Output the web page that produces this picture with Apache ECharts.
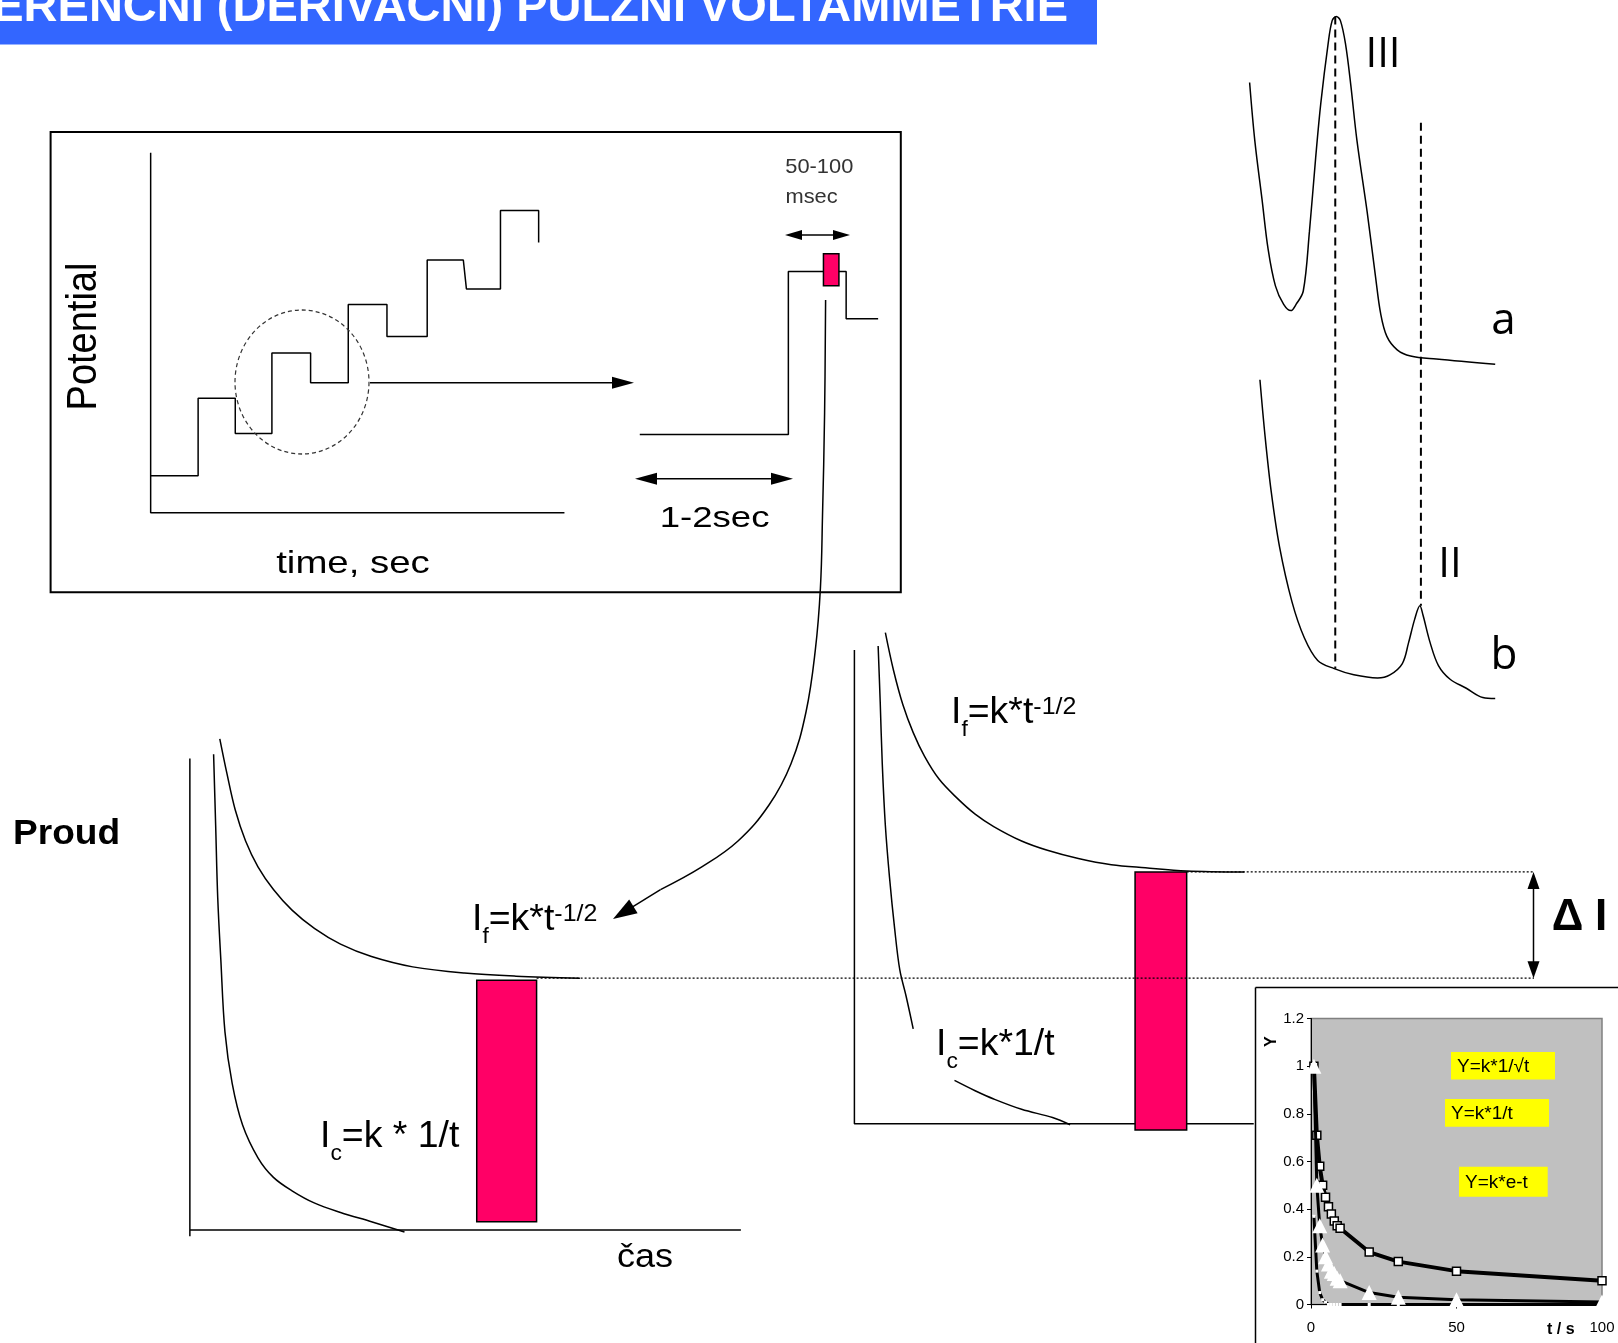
<!DOCTYPE html>
<html>
<head>
<meta charset="utf-8">
<title>Diferenční pulzní voltammetrie</title>
<script src="https://cdn.jsdelivr.net/npm/echarts/dist/echarts.min.js"></script>
<style>
  html, body { margin: 0; padding: 0; background: #fff; }
  #chart { width: 1618px; height: 1343px; }
</style>
</head>
<body>
<div id="chart"></div>
<script>
// ---- data (diagram units) ----
// potential programme: staircase with pulses, then one pulse in detail
const stairSteps = [[0,36],[46,36],[46,111],[82,111],[82,77],[117.5,77],[117.5,155],[155,155],[155,126],[191.5,126],[191.5,202],[229,202],[229,171],[268,171],[268,245],[303,245],[306,217],[339,217],[339,293],[376,293],[376,262]];
const pulseDetail = [[474,76],[618,76],[618,234],[674,234],[674,188],[705,188]];
const pulseSample = [652, 667, 220, 251];      // t from, t to, E from, E to
const potFrame = [[0,349],[0,0],[401,0]];

// current decay before the pulse
const faradaicBase = [[29,476],[36,442],[44,407],[54,377],[66,352],[81,330],[99,310],[121,292],[146,277],[176,265],[216,255],[266,249],[316,246],[378,244]];
const capacitiveBase = [[23,461],[25,392],[27,322],[30,262],[34,192],[41,142],[51,102],[66,70],[81,51],[99,38],[121,26],[146,17],[176,8],[208,-2]];
const sampleBase = [278, 336, 8, 242];
const baseFrame = [[0,457],[0,-6],[0,0],[534,0]];

// current decay after the pulse
const faradaicPulse = [[30,476],[38,439],[47,406],[57,379],[68,356],[82,334],[99,316],[117,300],[135,288],[162,274],[187,265],[217,257],[249,251],[282,248],[322,245],[378,244]];
const capacitivePulseA = [[23,463],[25,409],[27,349],[30,289],[34,239],[39,189],[44,149],[50,124],[57,92]];
const capacitivePulseB = [[97,42],[117,32],[135,24],[162,14],[192,6],[209,-1]];
const samplePulse = [272, 322, -6, 244];
const pulseFrame = [[0,459],[0,0],[387,0]];

// voltammograms a, b
const curveA = [[11,620],[16,564],[23,507],[29,458],[36,423],[44,405],[51,399],[56,405],[63,418],[69,476],[75,547],[80,600],[87,657],[91,680],[95,684],[99,680],[104,657],[109,618],[115,564],[125,494],[133,432],[138,396],[144,374],[154,361],[167,355],[192,352],[249,347]];
const curveB = [[21,332],[26,277],[32,223],[40,170],[52,117],[64,82],[77,60],[93,52],[112,46],[135,43],[147,46],[159,57],[165,77],[171,100],[176,113],[179,104],[186,77],[194,55],[205,42],[221,33],[237,24],[249,23]];
const peakIII = [[94,684],[94,52]];
const peakII = [[177,581],[177,113]];

// inset: decay functions
const tSec = [1,2,3,4,5,6,7,8,9,10,20,30,50,100];
const yInvSqrt = [1.0,0.71,0.58,0.5,0.45,0.41,0.38,0.35,0.33,0.32,0.22,0.18,0.14,0.10];
const yInv = [1.0,0.5,0.33,0.25,0.2,0.17,0.14,0.13,0.11,0.1,0.05,0.03,0.02,0.01];
const yExp = [0.37,0.14,0.05,0.02,0.01,0,0,0,0,0,0,0,0,0];

// ---- layout helpers ----
const K = 1618 / 1568;   // layout was measured on the 1568 wide copy
const SANS = '"Liberation Sans", Arial, sans-serif';
const HUM = '"Open Sans", "Noto Sans", sans-serif';

const meas = document.createElement('canvas').getContext('2d');
function textWidth(str, size) {
  meas.font = 'normal ' + size + 'px ' + SANS;
  return meas.measureText(str).width;
}

function label(text, x, base, size, opt) {
  opt = opt || {};
  const sy = opt.sy || 1;
  return {
    type: 'text', z: 20, x: x, y: base - 0.35 * size * sy,
    scaleX: opt.sx || 1, scaleY: sy,
    style: {
      text: text, fontSize: size, fontFamily: opt.family || SANS,
      fontWeight: opt.bold ? 'bold' : 'normal', fill: opt.color || '#000',
      align: opt.align || 'left', verticalAlign: 'middle'
    }
  };
}

// I_f=k*t^-1/2 style labels, pieces laid out one after another
function formula(x, base, parts) {
  const out = [];
  let cx = x;
  parts.forEach(function (p) {
    out.push(label(p[0], cx, base + (p[2] || 0), p[1], { sx: 1.04 }));
    cx += textWidth(p[0], p[1]) * 1.04;
  });
  return out;
}

function arrow(x1, y1, x2, y2, opt) {
  const len = opt.len, half = opt.half;
  const d = Math.hypot(x2 - x1, y2 - y1), ux = (x2 - x1) / d, uy = (y2 - y1) / d;
  const head = function (tx, ty, sx, sy) {
    return { type: 'polygon', z: 20, shape: { points: [[tx, ty],
      [tx - sx * len - sy * half, ty - sy * len + sx * half],
      [tx - sx * len + sy * half, ty - sy * len - sx * half]] }, style: { fill: '#000' } };
  };
  const out = [];
  let ax = x1, ay = y1, bx = x2, by = y2;
  if (opt.end) { out.push(head(x2, y2, ux, uy)); bx -= ux * len * 0.8; by -= uy * len * 0.8; }
  if (opt.start) { out.push(head(x1, y1, -ux, -uy)); ax += ux * len * 0.8; ay += uy * len * 0.8; }
  out.push({ type: 'line', z: 20, shape: { x1: ax, y1: ay, x2: bx, y2: by },
    style: { stroke: '#000', lineWidth: opt.width || 1.5 } });
  return out;
}

function yellowTag(x, y, w, h, text) {
  return [
    { type: 'rect', z: 20, shape: { x: x, y: y, width: w, height: h }, style: { fill: '#FFFF00' } },
    { type: 'text', z: 21, x: x + 6, y: y + h / 2 + 1,
      style: { text: text, fontSize: 19, fontFamily: SANS, fill: '#000', verticalAlign: 'middle' } }
  ];
}

// ---- series helpers ----
function line(name, idx, data, opt) {
  return Object.assign({
    type: 'line', name: name, xAxisIndex: idx, yAxisIndex: idx, data: data,
    symbol: 'none', showSymbol: false, silent: true, clip: false, z: 3,
    lineStyle: { color: '#000', width: 1.5 }
  }, opt || {});
}

function sampleRect(name, idx, win) {
  return {
    type: 'custom', name: name, xAxisIndex: idx, yAxisIndex: idx, silent: true, z: 4,
    data: [win], encode: { x: [0, 1], y: [2, 3] },
    renderItem: function (params, api) {
      const a = api.coord([api.value(0), api.value(3)]);
      const b = api.coord([api.value(1), api.value(2)]);
      return { type: 'rect', shape: { x: a[0], y: a[1], width: b[0] - a[0], height: b[1] - a[1] },
        style: { fill: '#FF0066', stroke: '#000', lineWidth: 1.5 } };
    }
  };
}

function hiddenAxis(idx, min, max) {
  return { type: 'value', gridIndex: idx, min: min, max: max, show: false };
}

const pairs = function (ys) { return tSec.map(function (t, i) { return [t, ys[i]]; }); };

// ---- graphic annotations ----
const graphics = [].concat(
  [
    { type: 'rect', z: 5, shape: { x: 0, y: 0, width: 1097, height: 44.5 }, style: { fill: '#3366FF' } },
    label('ERENČNÍ (DERIVAČNÍ) PULZNÍ VOLTAMMETRIE', 1068, 24.5, 47, { bold: true, color: '#fff', align: 'right' }),
    { type: 'rect', z: 5, shape: { x: 50.6, y: 132, width: 850.2, height: 460.3 },
      style: { fill: 'none', stroke: '#000', lineWidth: 2 } },
    { type: 'circle', z: 6, x: 302, y: 382, scaleY: 72 / 67, shape: { cx: 0, cy: 0, r: 67 },
      style: { fill: 'none', stroke: '#333', lineWidth: 1.2, lineDash: [4, 3] } },
    { type: 'text', z: 20, x: 84, y: 336.5, rotation: Math.PI / 2, scaleY: 1.1,
      style: { text: 'Potential', fontSize: 38, fontFamily: SANS, fill: '#000', align: 'center', verticalAlign: 'middle' } },
    label('time, sec', 353, 575, 32, { sx: 1.2, align: 'center' }),
    label('1-2sec', 714.6, 529, 30, { sx: 1.22, align: 'center' }),
    label('50-100', 819.3, 175, 21, { sx: 1.04, align: 'center', color: '#333' }),
    label('msec', 811.6, 205, 21, { sx: 1.04, align: 'center', color: '#333' }),
    label('Proud', 13, 847, 35, { bold: true, sx: 1.06 }),
    label('čas', 617, 1270, 34, { sx: 1.06 }),
    label('Δ', 1567.5, 933, 44, { bold: true, align: 'center' }),
    label('I', 1601, 933, 44, { bold: true, align: 'center' }),
    label('III', 1383, 70, 42, { family: HUM, align: 'center' }),
    label('a', 1503.5, 337, 44, { family: HUM, align: 'center' }),
    label('II', 1450, 580, 42, { family: HUM, align: 'center' }),
    label('b', 1504, 671.5, 44, { family: HUM, align: 'center' }),
    // curved arrow from the sampled pulse down to the current plot
    { type: 'polyline', z: 20, shape: { smooth: 0.4, points: [[825.6,300],[824.6,412.8],[822.5,516],[820.4,588.2],[815.3,650.2],[806,712],[791,763.7],[769,805],[738,841],[701.8,866.9],[660.5,889.6]] },
      style: { fill: 'none', stroke: '#000', lineWidth: 1.5 } },
    // dotted reference levels
    { type: 'line', z: 20, shape: { x1: 536.6, y1: 978.2, x2: 1534, y2: 978.2 }, style: { stroke: '#000', lineWidth: 1.2, lineDash: [2, 2] } },
    { type: 'line', z: 20, shape: { x1: 1186.7, y1: 871.9, x2: 1534, y2: 871.9 }, style: { stroke: '#000', lineWidth: 1.2, lineDash: [2, 2] } },
    // inset frame
    { type: 'line', z: 20, shape: { x1: 1255.5, y1: 987.5, x2: 1618, y2: 987.5 }, style: { stroke: '#000', lineWidth: 1.5 } },
    { type: 'line', z: 20, shape: { x1: 1255.5, y1: 987.5, x2: 1255.5, y2: 1343 }, style: { stroke: '#000', lineWidth: 1.5 } },
    { type: 'text', z: 20, x: 1272, y: 1041.7, rotation: Math.PI / 2,
      style: { text: 'Y', fontSize: 16, fontWeight: 'bold', fontFamily: SANS, fill: '#000', align: 'center', verticalAlign: 'middle' } },
    { type: 'text', z: 20, x: 1547, y: 1330,
      style: { text: 't / s', fontSize: 16, fontWeight: 'bold', fontFamily: SANS, fill: '#000', verticalAlign: 'middle' } }
  ],
  arrow(370, 382.8, 634, 382.8, { end: true, len: 22, half: 6 }),
  arrow(635, 478.8, 793, 478.8, { start: true, end: true, len: 22, half: 6 }),
  arrow(785, 235, 850, 235, { start: true, end: true, len: 17, half: 5 }),
  arrow(660.5, 889.6, 613, 919, { end: true, len: 24, half: 8 }),
  arrow(1533.5, 872, 1533.5, 978.2, { start: true, end: true, len: 17, half: 6 }),
  formula(472, 933, [['I', 36], ['f', 22, 11.5], ['=k*t', 36], ['-1/2', 24, -10]]),
  formula(320, 1150, [['I', 36], ['c', 22, 11.5], ['=k * 1/t', 36]]),
  formula(951, 726, [['I', 36], ['f', 22, 11.5], ['=k*t', 36], ['-1/2', 24, -10]]),
  formula(936, 1058, [['I', 36], ['c', 22, 11.5], ['=k*1/t', 36]]),
  yellowTag(1451, 1052, 104, 27.5, 'Y=k*1/√t'),
  yellowTag(1445, 1099, 104, 27.7, 'Y=k*1/t'),
  yellowTag(1459, 1166.7, 88.7, 30, 'Y=k*e-t')
);

const noBounds = { show: false, outerBoundsMode: 'none', containLabel: false };

const option = {
  animation: false,
  backgroundColor: '#fff',
  grid: [
    Object.assign({ left: 146 * K, top: 147 * K, width: 710 * K, height: 350 * K }, noBounds),
    Object.assign({ left: 184 * K, top: 712 * K, width: 540 * K, height: 490 * K }, noBounds),
    Object.assign({ left: 828 * K, top: 609 * K, width: 400 * K, height: 490 * K }, noBounds),
    Object.assign({ left: 1200 * K, top: 0, width: 260 * K, height: 700 * K }, noBounds),
    { left: 1311, top: 1018.5, width: 291, height: 286, show: true, outerBoundsMode: 'none', containLabel: false,
      backgroundColor: '#C0C0C0', borderColor: '#808080', borderWidth: 1.5 }
  ],
  xAxis: [
    hiddenAxis(0, 0, 710), hiddenAxis(1, 0, 540), hiddenAxis(2, 0, 400), hiddenAxis(3, 0, 260),
    { type: 'value', gridIndex: 4, min: 0, max: 100, interval: 50,
      axisLine: { show: true, onZero: false, lineStyle: { color: '#000', width: 1 } },
      axisTick: { show: true, length: 4, lineStyle: { color: '#000' } },
      axisLabel: { color: '#000', fontSize: 15, fontFamily: SANS, margin: 16 },
      splitLine: { show: false } }
  ],
  yAxis: [
    hiddenAxis(0, 0, 350), hiddenAxis(1, -10, 480), hiddenAxis(2, -10, 480), hiddenAxis(3, 0, 700),
    { type: 'value', gridIndex: 4, min: 0, max: 1.2, interval: 0.2,
      axisLine: { show: true, onZero: false, lineStyle: { color: '#000', width: 1 } },
      axisTick: { show: true, length: 4, lineStyle: { color: '#000' } },
      axisLabel: { color: '#000', fontSize: 15, fontFamily: SANS, margin: 7 },
      splitLine: { show: false } }
  ],
  series: [
    line('osy potenciálu', 0, potFrame),
    line('schodovitý potenciál', 0, stairSteps),
    line('puls', 0, pulseDetail),
    sampleRect('měření v pulsu', 0, pulseSample),

    line('osy proudu 1', 1, baseFrame),
    line('If před pulsem', 1, faradaicBase, { smooth: 0.35 }),
    line('Ic před pulsem', 1, capacitiveBase, { smooth: 0.35 }),
    sampleRect('měření 1', 1, sampleBase),

    line('osy proudu 2', 2, pulseFrame),
    line('If v pulsu', 2, faradaicPulse, { smooth: 0.35 }),
    line('Ic v pulsu', 2, capacitivePulseA, { smooth: 0.35 }),
    line('Ic v pulsu (konec)', 2, capacitivePulseB, { smooth: 0.35 }),
    sampleRect('měření 2', 2, samplePulse),

    line('a', 3, curveA, { smooth: 0.35 }),
    line('b', 3, curveB, { smooth: 0.35 }),
    line('pík III', 3, peakIII, { lineStyle: { color: '#000', width: 2, type: [8, 5] } }),
    line('pík II', 3, peakII, { lineStyle: { color: '#000', width: 2, type: [8, 5] } }),

    { type: 'line', name: 'Y=k*1/√t', xAxisIndex: 4, yAxisIndex: 4, data: pairs(yInvSqrt), silent: true, z: 3,
      symbol: 'rect', symbolSize: 8, showSymbol: true,
      lineStyle: { color: '#000', width: 4 }, itemStyle: { color: '#fff', borderColor: '#000', borderWidth: 1.5 } },
    { type: 'line', name: 'Y=k*e-t', xAxisIndex: 4, yAxisIndex: 4, data: pairs(yExp), silent: true, z: 4,
      symbol: 'rect', symbolSize: 3, showSymbol: true,
      lineStyle: { color: '#000', width: 3 }, itemStyle: { color: '#fff', borderWidth: 0 } },
    { type: 'line', name: 'Y=k*1/t', xAxisIndex: 4, yAxisIndex: 4, data: pairs(yInv), silent: true, z: 5,
      symbol: 'triangle', symbolSize: 15, showSymbol: true,
      lineStyle: { color: '#000', width: 3 }, itemStyle: { color: '#fff', borderWidth: 0 } }
  ],
  graphic: { elements: graphics }
};

const chart = echarts.init(document.getElementById('chart'));
chart.setOption(option);
</script>
</body>
</html>
